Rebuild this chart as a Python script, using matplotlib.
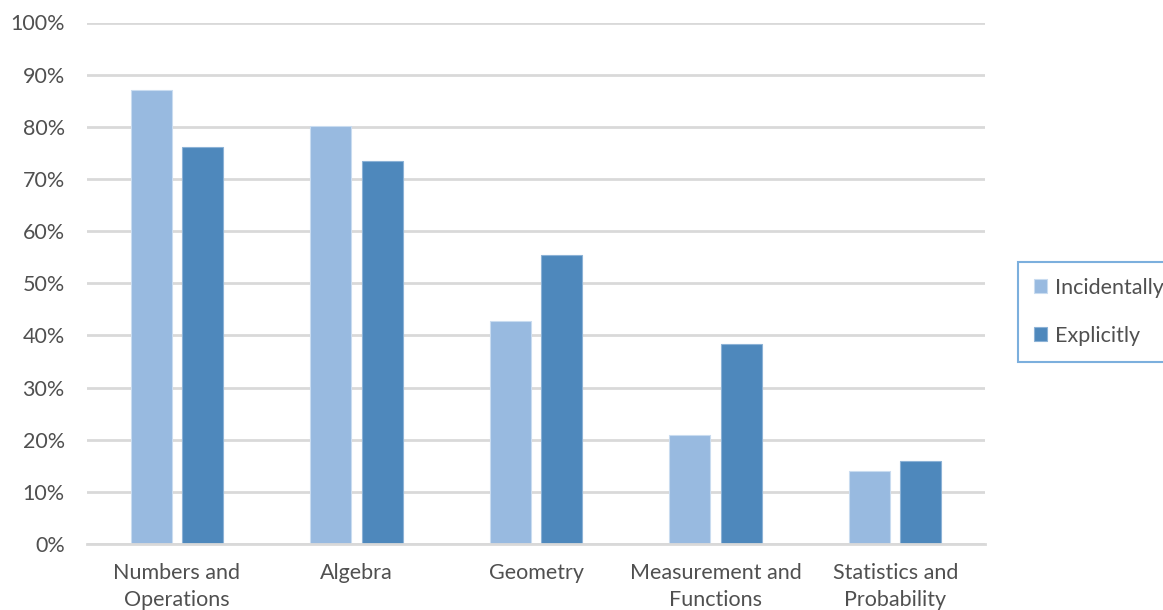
import matplotlib
matplotlib.use("Agg")
import matplotlib.pyplot as plt
import numpy as np

categories = ["Numbers and\nOperations", "Algebra", "Geometry",
              "Measurement and\nFunctions", "Statistics and\nProbability"]
incidentally = [87.0, 80.1, 42.7, 20.9, 14.0]
explicitly = [76.2, 73.4, 55.4, 38.3, 16.0]
yticks = [0, 10, 20, 30, 40, 50, 60, 70, 80, 90, 100]

plt.rcParams['font.family'] = ['Lato', 'DejaVu Sans']
text_color = "#505050"
grid_color = "#d9d9d9"
fs = 15.5

fig = plt.figure(figsize=(11.63, 6.10), dpi=100)
ax = fig.add_axes([87/1163, 1-544/610, (985-87)/1163, (544-22.5)/610])

x = np.arange(len(categories))
w = 0.228
off = 0.143
ax.bar(x - off, incidentally, width=w, color="#98bae0", edgecolor="#c9dcf0",
       linewidth=0.8, label="Incidentally", zorder=3)
ax.bar(x + off, explicitly, width=w, color="#4e88bc", edgecolor="#8cb2d6",
       linewidth=0.8, label="Explicitly", zorder=3)

ax.set_xlim(-0.5, len(categories) - 0.5)
ax.set_ylim(0, 100)
ax.set_yticks(yticks)
ax.set_yticklabels([f"{t}%" for t in yticks])
ax.yaxis.grid(True, color=grid_color, linewidth=2, zorder=0)
ax.set_axisbelow(True)
for s in ["top", "right", "left"]:
    ax.spines[s].set_visible(False)
ax.spines["bottom"].set_color(grid_color)
ax.spines["bottom"].set_linewidth(2)
ax.spines["bottom"].set_zorder(4)
ax.tick_params(axis="both", length=0, labelsize=fs, colors=text_color)
ax.tick_params(axis="y", pad=16)
ax.tick_params(axis="x", pad=14)
ax.set_xticks(x)
ax.set_xticklabels(categories, linespacing=1.42)

leg = fig.legend(loc="center left", bbox_to_anchor=(1018/1163, 1-312/610),
                 frameon=True, fancybox=False, fontsize=fs,
                 handlelength=0.62, handleheight=0.62, handletextpad=0.35,
                 labelspacing=1.3, borderpad=0.75, borderaxespad=0)
leg.get_frame().set_edgecolor("#5b9bd5")
leg.get_frame().set_linewidth(1.5)
for t in leg.get_texts():
    t.set_color(text_color)

fig.savefig("out.png", dpi=100)
